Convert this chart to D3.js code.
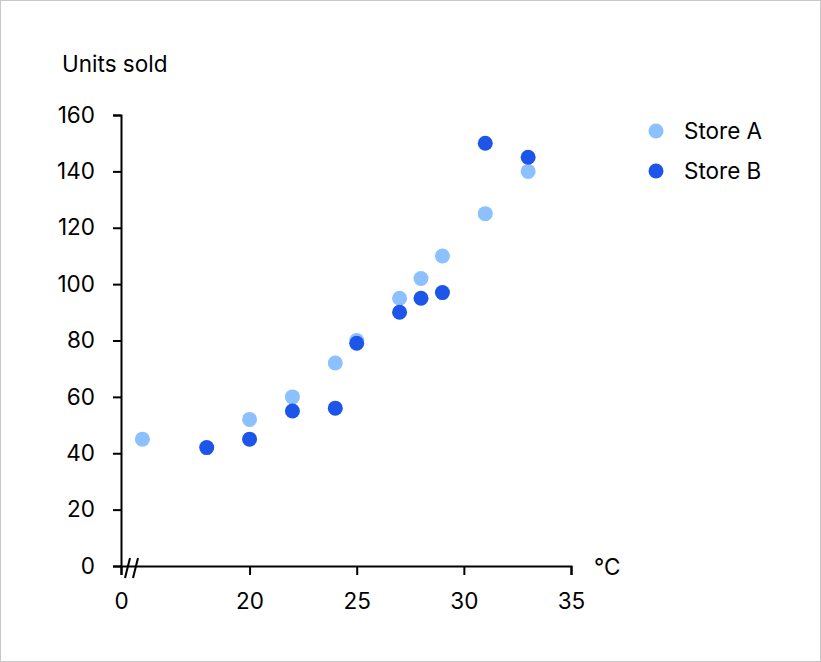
<!DOCTYPE html>
<meta charset="utf-8">
<script src="https://d3js.org/d3.v7.min.js"></script>
<style>
  body { margin: 0; background: #fff; }
  text { font-family: Inter, "Open Sans", sans-serif; fill: #000; }
</style>
<div id="chart"></div>
<script>
// temperature (°C) readings and units sold per store
var tempA = [15, 20, 22, 24, 25, 27, 28, 29, 31, 33];
var unitsA = [45, 52, 60, 72, 80, 95, 102, 110, 125, 140];
var tempB = [18, 20, 22, 24, 25, 27, 28, 29, 31, 33];
var unitsB = [42, 45, 55, 56, 79, 90, 95, 97, 150, 145];

var seriesNames = ["Store A", "Store B"];
var xTicks = [14, 20, 25, 30, 35];
var xTickLabels = ["0", "20", "25", "30", "35"];
var yTicks = [0, 20, 40, 60, 80, 100, 120, 140, 160];

var W = 821, H = 662;
var margin = {top: 115, right: 250, bottom: 96, left: 121};
var width = W - margin.left - margin.right,
    height = H - margin.top - margin.bottom;
var fontSize = "22.5px";

var colors = d3.scaleOrdinal().domain(seriesNames).range(["#8cc0ff", "#1d55e8"]);

var svg = d3.select("#chart").append("svg")
    .attr("width", W)
    .attr("height", H);

// frame
svg.append("rect")
    .attr("x", 0.5).attr("y", 0.5)
    .attr("width", W - 1).attr("height", H - 1)
    .attr("fill", "none").attr("stroke", "#c8c8c8");

var g = svg.append("g")
    .attr("transform", "translate(" + margin.left + "," + margin.top + ")");

var x = d3.scaleLinear().domain([14, 35]).range([0, width]);
var y = d3.scaleLinear().domain([0, 160]).range([height, 0]);

// y axis
var yAxis = g.append("g")
    .call(d3.axisLeft(y).tickValues(yTicks).tickSize(8).tickSizeOuter(8).tickPadding(18));

// x axis
var xAxis = g.append("g")
    .attr("transform", "translate(0," + height + ")")
    .call(d3.axisBottom(x).tickValues(xTicks).tickSize(9).tickSizeOuter(9).tickPadding(18)
        .tickFormat(function (d, i) { return xTickLabels[i]; }));

[yAxis, xAxis].forEach(function (ax) {
    ax.selectAll("path, line").attr("stroke", "#000").attr("stroke-width", 2);
    ax.selectAll("text").style("font-size", fontSize).attr("fill", "#000")
        .style("font-family", "Inter, 'Open Sans', sans-serif");
});

// axis break marks
var brk = g.append("g").attr("transform", "translate(0," + height + ")");
[5, 13].forEach(function (dx) {
    brk.append("line")
        .attr("x1", dx - 1).attr("y1", 12)
        .attr("x2", dx + 4).attr("y2", -8)
        .attr("stroke", "#000").attr("stroke-width", 2);
});

// axis titles
svg.append("text")
    .attr("x", 62).attr("y", 72)
    .style("font-size", fontSize)
    .text("Units sold");

svg.append("text")
    .attr("x", 594).attr("y", 575)
    .style("font-size", fontSize)
    .text("°C");

// points
var dataA = tempA.map(function (t, i) { return {x: t, y: unitsA[i]}; });
var dataB = tempB.map(function (t, i) { return {x: t, y: unitsB[i]}; });

[[dataA, "Store A"], [dataB, "Store B"]].forEach(function (s) {
    g.append("g").selectAll("circle")
        .data(s[0])
        .enter().append("circle")
        .attr("cx", function (d) { return x(d.x); })
        .attr("cy", function (d) { return y(d.y); })
        .attr("r", 7.5)
        .attr("fill", colors(s[1]));
});

// legend
var legend = svg.append("g")
    .selectAll("g")
    .data(seriesNames)
    .enter().append("g")
    .attr("transform", function (d, i) { return "translate(656," + (131 + i * 40) + ")"; });

legend.append("circle")
    .attr("r", 7.5)
    .attr("fill", function (d) { return colors(d); });

legend.append("text")
    .attr("x", 28)
    .attr("dy", "0.35em")
    .style("font-size", fontSize)
    .text(function (d) { return d; });
</script>
